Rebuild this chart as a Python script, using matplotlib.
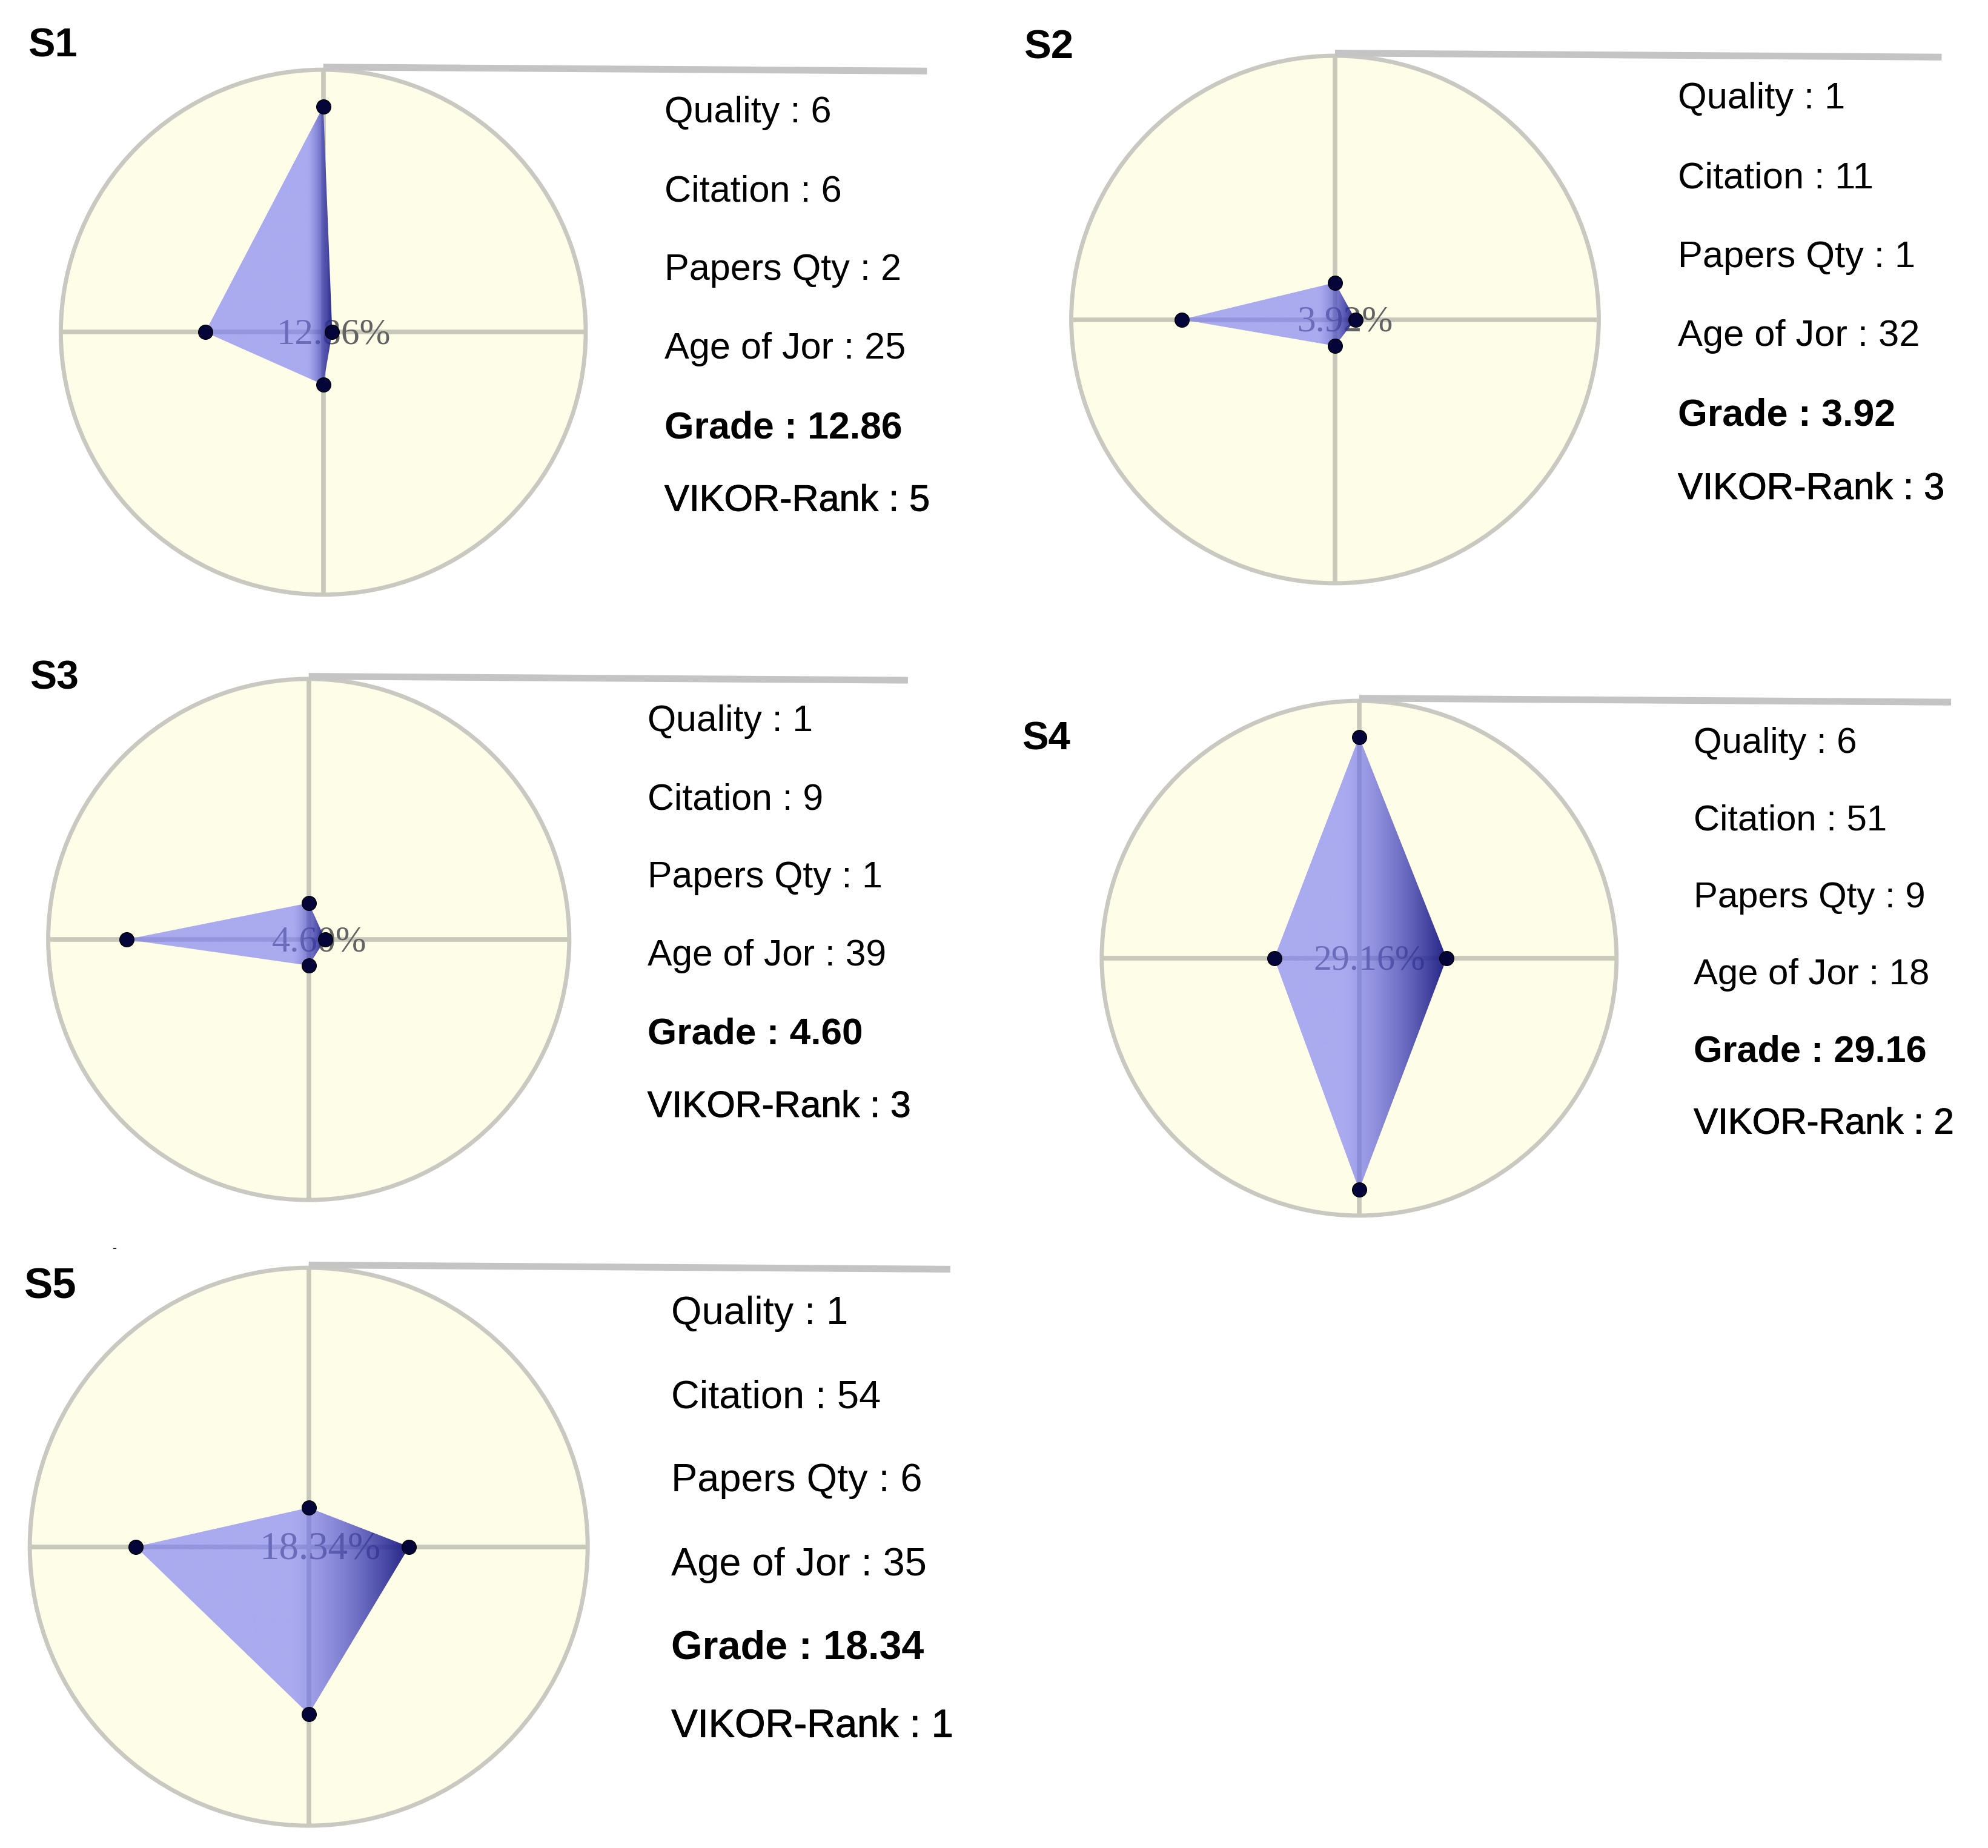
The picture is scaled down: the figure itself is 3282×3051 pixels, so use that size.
import numpy as np
import matplotlib
matplotlib.use("Agg")
import matplotlib.pyplot as plt
import matplotlib.patheffects as pe
from matplotlib.patches import Circle, Polygon

####################################################
# Donnees des 5 sources
noms = ["S1", "S2", "S3", "S4", "S5"]
quality = [6, 1, 1, 6, 1]
citation = [6, 11, 9, 51, 54]
papers_qty = [2, 1, 1, 9, 6]
age_jor = [25, 32, 39, 18, 35]
grade = [12.86, 3.92, 4.60, 29.16, 18.34]
vikor_rank = [5, 3, 3, 2, 1]

r_haut = [0.86, 0.14, 0.14, 0.86, 0.14]
r_droite = [0.034, 0.077, 0.063, 0.34, 0.36]
r_bas = [0.20, 0.10, 0.10, 0.90, 0.60]
r_gauche = [0.45, 0.58, 0.70, 0.33, 0.62]
####################################################

####################################################
# Mise en page (pixels de la figure) : centre x, centre y, rayon
W, H = 3282, 3051
cx = [533.7, 2204.0, 509.7, 2243.8, 509.7]
cy = [548.4, 527.5, 1551.0, 1582.0, 2553.6]
R = [433.3, 435.4, 430.1, 424.9, 460.5]
# position du titre Sx (en unites de rayon)
titre_x = [-1.125, -1.18, -1.07, -1.31, -1.02]
titre_y = [1.09, 1.03, 1.0, 0.85, 0.93]
lignes_y = [0.835, 0.535, 0.235, -0.065, -0.365, -0.645]
####################################################

fig = plt.figure(figsize=(W / 100, H / 100), dpi=100)
fig.patch.set_facecolor("white")

gris_axe = "#c9c9bb"
clair = np.array([114, 115, 245]) / 255.0
fonce = np.array([22, 22, 125]) / 255.0

for i in range(5):
	L = 1.1
	ax = fig.add_axes([(cx[i] - L * R[i]) / W, 1 - (cy[i] + L * R[i]) / H,
	                   2 * L * R[i] / W, 2 * L * R[i] / H])
	ax.set_xlim(-L, L)
	ax.set_ylim(-L, L)
	ax.set_aspect("equal")
	ax.axis("off")
	k = R[i] / 433.3  # facteur d'echelle des textes

	# fond du radar
	ax.add_patch(Circle((0, 0), 1.0, facecolor="#fefde8", edgecolor="#c9c9c1", lw=5, zorder=1))
	ax.plot([-1, 1], [0, 0], color=gris_axe, lw=5.5, zorder=2, solid_capstyle="butt")
	ax.plot([0, 0], [-1, 1], color=gris_axe, lw=5.5, zorder=2, solid_capstyle="butt")

	# ligne grise en haut
	ax.plot([0, 2.3], [1.01, 0.995], color="#c4c4c4", lw=8, zorder=2, clip_on=False,
	        solid_capstyle="butt")

	# pourcentage au centre (sous le polygone)
	ax.text(0.04, -0.01, "%.2f%%" % grade[i], family="Liberation Serif", fontsize=44 * k,
	        color="#636363", ha="center", va="center", zorder=3)

	# polygone avec degrade vers la droite
	px = [0, r_droite[i], 0, -r_gauche[i]]
	py = [r_haut[i], 0, -r_bas[i], 0]
	poly = Polygon(list(zip(px, py)), closed=True, facecolor="none", edgecolor="none")
	ax.add_patch(poly)
	xmin, xmax = -r_gauche[i], r_droite[i]
	xs = np.linspace(xmin, xmax, 600)
	debut = -0.06
	t = np.clip((xs - debut) / (xmax - debut), 0, 1) ** 1.2
	img = np.zeros((1, len(xs), 4))
	for c in range(3):
		img[0, :, c] = clair[c] * (1 - t) + fonce[c] * t
	img[0, :, 3] = 0.6 * (1 - t) + 0.95 * t
	im = ax.imshow(img, extent=[xmin, xmax, -r_bas[i], r_haut[i]], aspect="auto",
	               interpolation="bilinear", zorder=4)
	im.set_clip_path(poly)

	# points
	ax.plot(px, py, "o", color="black", markerfacecolor="#05053a", markersize=17, zorder=5)

	# titre
	ax.text(titre_x[i], titre_y[i], noms[i], fontsize=48 * k, fontweight="bold",
	        family="Liberation Sans", ha="left", va="center", clip_on=False)

	# textes a droite
	textes = ["Quality : %d" % quality[i],
	          "Citation : %d" % citation[i],
	          "Papers Qty : %d" % papers_qty[i],
	          "Age of Jor : %d" % age_jor[i],
	          "Grade : %.2f" % grade[i],
	          "VIKOR-Rank : %d" % vikor_rank[i]]
	for j, s in enumerate(textes):
		poids = "bold" if j == 4 else "normal"
		taille = 45 if j == 4 else 44
		t_ = ax.text(1.30, lignes_y[j], s, fontsize=taille * k, fontweight=poids,
		             family="Liberation Sans", ha="left", va="center", clip_on=False)
		if j == 5:
			# le rang est un peu plus epais
			t_.set_path_effects([pe.withStroke(linewidth=0.7, foreground="black")])

# petit tiret isole
fig.text(190 / W, 1 - 2061 / H, "-", fontsize=14, ha="center", va="center")

fig.savefig("out.png", dpi=100, facecolor="white")
